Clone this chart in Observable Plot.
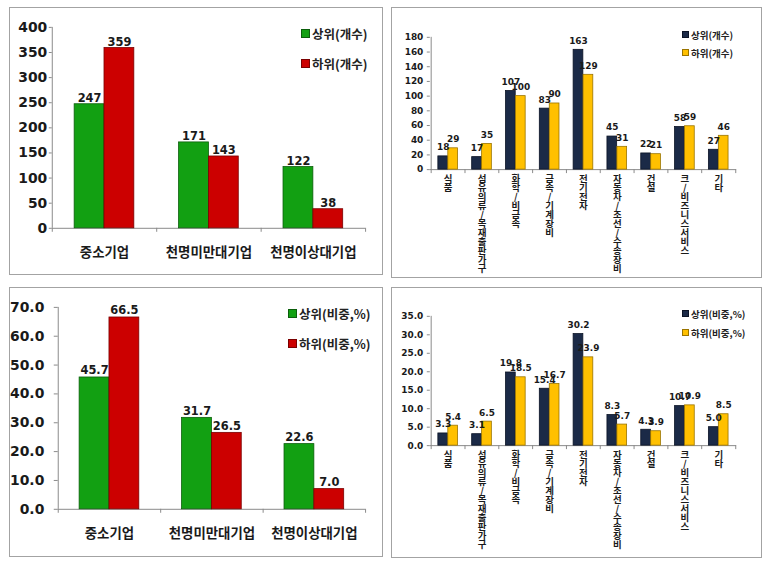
<!DOCTYPE html>
<html><head><meta charset="utf-8">
<script src="https://cdn.jsdelivr.net/npm/d3@7"></script>
<script src="https://cdn.jsdelivr.net/npm/@observablehq/plot@0.6"></script>
<style>
body{margin:0;background:#fff;}
#root{position:relative;width:775px;height:567px;overflow:hidden;background:#fff;}
.panel{position:absolute;box-sizing:border-box;border:1px solid #a3a3a3;background:#fff;}
.panel svg{position:absolute;left:-1px;top:-1px;}
.lg{position:absolute;display:flex;align-items:center;white-space:nowrap;font-family:'Noto Sans CJK KR',sans-serif;font-weight:bold;color:#222;}
.lg i{display:inline-block;box-sizing:border-box;margin-right:2px;}
</style></head><body><div id="root"></div>
<script>
// ---- data ----
const sizeCategories = ["중소기업", "천명미만대기업", "천명이상대기업"];
const sizeTopCount = [247, 171, 122];
const sizeBottomCount = [359, 143, 38];
const sizeTopShare = [45.7, 31.7, 22.6];
const sizeBottomShare = [66.5, 26.5, 7.0];

const industryCategories = ["식품", "섬유의류/목재출판가구", "화학/비금속", "금속/기계장비", "전기전자", "자동차/조선/수송장비", "건설", "크/비즈니스서비스", "기타"];
const industryTopCount = [18, 17, 107, 83, 163, 45, 22, 58, 27];
const industryBottomCount = [29, 35, 100, 90, 129, 31, 21, 59, 46];
const industryTopShare = [3.3, 3.1, 19.8, 15.4, 30.2, 8.3, 4.3, 10.7, 5.0];
const industryBottomShare = [5.4, 6.5, 18.5, 16.7, 23.9, 5.7, 3.9, 10.9, 8.5];

const sizeCountTicks = [0, 50, 100, 150, 200, 250, 300, 350, 400];
const sizeShareTicks = [0, 10, 20, 30, 40, 50, 60, 70];
const industryCountTicks = [0, 20, 40, 60, 80, 100, 120, 140, 160, 180];
const industryShareTicks = [0, 5, 10, 15, 20, 25, 30, 35];

const seriesTopCount = "상위(개수)", seriesBottomCount = "하위(개수)";
const seriesTopShare = "상위(비중,%)", seriesBottomShare = "하위(비중,%)";

const green = {fill: "#12a012", stroke: "#0b5e0b"};
const red = {fill: "#cc0000", stroke: "#7a0000"};
const navy = {fill: "#1b2a47", stroke: "#0b1325"};
const gold = {fill: "#ffc000", stroke: "#9a7400"};

const root = document.getElementById("root");

function makePanel(cfg) {
  const {box, m, cats, series, yMax, yTicks, yFmt, vFmt, barW} = cfg;
  const W = box.w, H = box.h;
  const step = (W - m.l - m.r) / cats.length;
  const plotH = H - m.t - m.b;
  const perPx = yMax / plotH;
  const tickLen = 4 * perPx;
  const marks = [];
  marks.push(Plot.ruleY([0], {stroke: "#8a8a8a"}));
  marks.push(Plot.ruleX([cats[0]], {dx: -step / 2, y1: 0, y2: yMax, stroke: "#8a8a8a"}));
  marks.push(Plot.ruleX(cats, {dx: -step / 2, y1: 0, y2: -tickLen, stroke: "#8a8a8a"}));
  marks.push(Plot.ruleX([cats[cats.length - 1]], {dx: step / 2, y1: 0, y2: -tickLen, stroke: "#8a8a8a"}));
  marks.push(Plot.axisY({ticks: yTicks, tickFormat: yFmt, tickSize: cfg.yTickSize, tickPadding: cfg.yTickPad,
    fontSize: cfg.tickFont, fontWeight: "bold", fontFamily: cfg.numFamily, stroke: "#8a8a8a", fill: "#1a1a1a"}));
  if (cfg.vertical) {
    marks.push(Plot.axisX({tickSize: 0, tickPadding: cfg.xPad, tickFormat: d => Array.from(d).join("\n"),
      lineHeight: cfg.lineHeight, fontSize: cfg.catFont, fontWeight: "bold", fontFamily: "'Noto Sans CJK KR',sans-serif", fill: "#1a1a1a"}));
  } else {
    marks.push(Plot.axisX({tickSize: 0, tickPadding: cfg.xPad, fontSize: cfg.catFont, fontWeight: "bold",
      fontFamily: "'Noto Sans CJK KR',sans-serif", fill: "#1a1a1a"}));
  }
  series.forEach((s, si) => {
    const data = cats.map((c, i) => ({cat: c, value: s.values[i]}));
    marks.push(Plot.barY(data, {x: "cat", y: "value", fill: s.color.fill, stroke: s.color.stroke, strokeWidth: 0.8,
      insetLeft: si === 0 ? step / 2 - barW : step / 2, insetRight: si === 0 ? step / 2 : step / 2 - barW}));
  });
  series.forEach((s, si) => {
    const data = cats.map((c, i) => ({cat: c, value: s.values[i]}));
    marks.push(Plot.text(data, {x: "cat", y: "value", text: d => vFmt(d.value), dx: si === 0 ? -barW / 2 : barW / 2,
      dy: cfg.labelDy, fontSize: cfg.valueFont, fontWeight: "bold", fontFamily: cfg.numFamily, fill: "#1a1a1a"}));
  });
  const chart = Plot.plot({
    width: W, height: H,
    marginLeft: m.l, marginRight: m.r, marginTop: m.t, marginBottom: m.b,
    x: {domain: cats, padding: 0, label: null},
    y: {domain: [0, yMax], label: null},
    style: {background: "transparent", overflow: "visible", fontFamily: cfg.numFamily},
    marks
  });
  const div = document.createElement("div");
  div.className = "panel";
  Object.assign(div.style, {left: box.x + "px", top: box.y + "px", width: W + "px", height: H + "px"});
  div.appendChild(chart);
  root.appendChild(div);
  series.forEach((s, si) => {
    const row = document.createElement("div");
    row.className = "lg";
    const lh = cfg.legend.font * 1.3;
    Object.assign(row.style, {left: cfg.legend.x + "px", top: (cfg.legend.ys[si] - lh / 2) + "px",
      height: lh + "px", fontSize: cfg.legend.font + "px"});
    const sw = document.createElement("i");
    Object.assign(sw.style, {width: cfg.legend.sw + "px", height: cfg.legend.sw + "px", background: s.color.fill,
      border: "1px solid " + s.color.stroke});
    row.appendChild(sw);
    row.appendChild(document.createTextNode(s.name));
    root.appendChild(row);
  });
}

const bigNum = "'DejaVu Sans','Noto Sans CJK KR',sans-serif";

makePanel({
  box: {x: 9, y: 7, w: 374, h: 268}, m: {l: 43, r: 16, t: 20, b: 46},
  cats: sizeCategories,
  series: [{name: seriesTopCount, values: sizeTopCount, color: green}, {name: seriesBottomCount, values: sizeBottomCount, color: red}],
  yMax: 400, yTicks: sizeCountTicks, yFmt: d => String(d), vFmt: d => String(d), barW: 30,
  yTickSize: 3, yTickPad: 2, tickFont: 14, valueFont: 11.5, catFont: 13.5, xPad: 19, labelDy: -6, numFamily: bigNum,
  legend: {x: 301, ys: [33, 63], font: 12.5, sw: 9}
});

makePanel({
  box: {x: 9, y: 287, w: 374, h: 270}, m: {l: 49, r: 16, t: 20, b: 47},
  cats: sizeCategories,
  series: [{name: seriesTopShare, values: sizeTopShare, color: green}, {name: seriesBottomShare, values: sizeBottomShare, color: red}],
  yMax: 70, yTicks: sizeShareTicks, yFmt: d => d.toFixed(1), vFmt: d => d.toFixed(1), barW: 30,
  yTickSize: 4, yTickPad: 10, tickFont: 14, valueFont: 11.5, catFont: 13.5, xPad: 19, labelDy: -7, numFamily: bigNum,
  legend: {x: 288, ys: [313, 343], font: 12.5, sw: 9}
});

makePanel({
  box: {x: 391, y: 7, w: 371, h: 271}, m: {l: 39, r: 24, t: 30, b: 108},
  cats: industryCategories,
  series: [{name: seriesTopCount, values: industryTopCount, color: navy}, {name: seriesBottomCount, values: industryBottomCount, color: gold}],
  yMax: 180, yTicks: industryCountTicks, yFmt: d => String(d), vFmt: d => String(d), barW: 10,
  yTickSize: 3, yTickPad: 4, tickFont: 9, valueFont: 9, catFont: 9.5, xPad: 6, lineHeight: 0.95, labelDy: -9, numFamily: bigNum,
  vertical: true,
  legend: {x: 682, ys: [35, 53], font: 9.5, sw: 7}
});

makePanel({
  box: {x: 391, y: 287, w: 371, h: 271}, m: {l: 39, r: 24, t: 29, b: 112},
  cats: industryCategories,
  series: [{name: seriesTopShare, values: industryTopShare, color: navy}, {name: seriesBottomShare, values: industryBottomShare, color: gold}],
  yMax: 35, yTicks: industryShareTicks, yFmt: d => d.toFixed(1), vFmt: d => d.toFixed(1), barW: 10,
  yTickSize: 3, yTickPad: 4, tickFont: 9, valueFont: 9, catFont: 9.5, xPad: 6, lineHeight: 0.95, labelDy: -9, numFamily: bigNum,
  vertical: true,
  legend: {x: 682, ys: [314, 333], font: 9.5, sw: 7}
});
</script></body></html>
